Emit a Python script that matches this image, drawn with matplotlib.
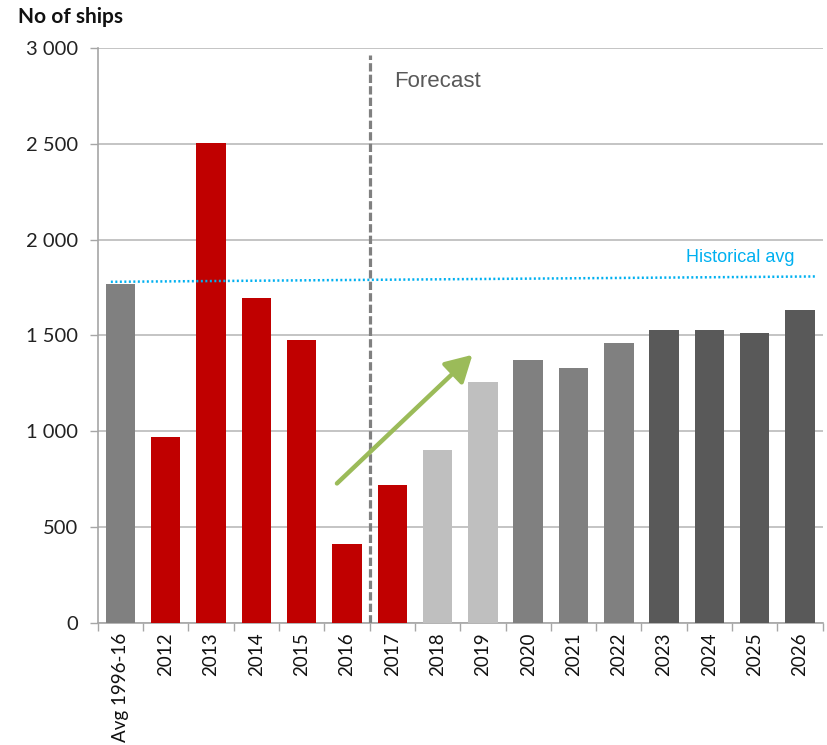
import matplotlib
matplotlib.use('Agg')
import matplotlib.pyplot as plt
import numpy as np

# data
categories = ['Avg 1996-16', '2012', '2013', '2014', '2015', '2016', '2017',
              '2018', '2019', '2020', '2021', '2022', '2023', '2024', '2025', '2026']
ships = [1770, 969, 2502, 1694, 1474, 413, 719,
         903, 1257, 1372, 1330, 1462, 1530, 1530, 1514, 1635]
bar_colors = ['#808080'] + ['#C00000'] * 6 + ['#BFBFBF'] * 2 + ['#808080'] * 3 + ['#595959'] * 4
hist_avg = [1780, 1808]          # dotted line, slightly rising left to right
trend_start = [4.78, 728]        # green arrow
trend_end = [7.77, 1399]
yticks = [0, 500, 1000, 1500, 2000, 2500, 3000]
ytick_labels = ['0', '500', '1 000', '1 500', '2 000', '2 500', '3 000']

fig = plt.figure(figsize=(8.28, 7.45), dpi=100)
ax = fig.add_axes([0.118, 0.1638, 0.8756, 0.7718])

x = np.arange(len(categories))
ax.bar(x, ships, width=0.65, color=bar_colors, zorder=3)

ax.set_xlim(-0.5, len(categories) - 0.5)
ax.set_ylim(0, 3000)
ax.set_yticks(yticks)
ax.set_yticklabels(ytick_labels, family='Lato', fontsize=14.5, color='#222222')
ax.yaxis.grid(True, color='#BFBFBF', lw=1.3, zorder=0)
ax.tick_params(axis='y', length=6, width=1, color='#A6A6A6', pad=8)

ax.set_xticks(x)
ax.set_xticklabels(categories, rotation=90, family='Lato', fontsize=13.5, color='#111111')
ax.set_xticks(np.arange(-0.5, len(categories)), minor=True)
ax.tick_params(axis='x', which='major', length=0, pad=7)
ax.tick_params(axis='x', which='minor', length=6, width=1, color='#A6A6A6')

for s in ['top', 'right']:
    ax.spines[s].set_visible(False)
ax.spines['left'].set_color('#A6A6A6')
ax.spines['bottom'].set_color('#A6A6A6')
ax.spines['left'].set_linewidth(1.2)
ax.spines['bottom'].set_linewidth(1.2)

# forecast divider
ax.plot([5.5, 5.5], [0, 2965], color='#808080', lw=2.3, dashes=(2.6, 1.0), zorder=4)
ax.text(6.05, 2825, 'Forecast', family='Liberation Sans', fontsize=16, color='#595959',
        va='center', ha='left')

# historical average
ax.plot([-0.21, 15.37], hist_avg, color='#00B0F0', lw=1.8, dashes=(0.8, 1.0), zorder=4)
ax.text(13.68, 1906, 'Historical avg', family='Liberation Sans', fontsize=13,
        color='#00B0F0', va='center', ha='center')

# trend arrow
ax.annotate('', xy=trend_end, xytext=trend_start,
            arrowprops=dict(arrowstyle='-|>,head_length=0.8,head_width=0.45',
                            color='#9BBB59', lw=3.2, mutation_scale=20,
                            shrinkA=0, shrinkB=0), zorder=5)

fig.text(0.022, 0.977, 'No of ships', family='Lato', fontweight='bold', fontsize=15,
         color='#111111', va='center', ha='left')

fig.savefig('out.png', dpi=100)
